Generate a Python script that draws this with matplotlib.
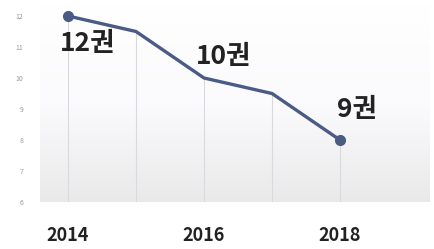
import numpy as np
import matplotlib
matplotlib.use("Agg")
import matplotlib.pyplot as plt
from matplotlib.colors import LinearSegmentedColormap

years = [2014, 2015, 2016, 2017, 2018]
values = [12.0, 11.5, 10.0, 9.5, 8.0]
label_years = [2014, 2016, 2018]
label_values = [12.0, 10.0, 8.0]
label_texts = ["12권", "10권", "9권"]
xtick_years = [2014, 2016, 2018]
ytick_values = [6, 7, 8, 9, 10, 11, 12]

plt.rcParams['font.family'] = ['Noto Sans CJK KR', 'DejaVu Sans']

W, H = 435, 249
fig = plt.figure(figsize=(W / 100, H / 100), dpi=100)
fig.patch.set_facecolor('white')
ax = fig.add_axes([40 / W, 1 - 202 / H, 390 / W, 197 / H])

x0, x1 = 2014 - 28 / 68, 2018 + 90 / 68
y0, y1 = 6, 6 + 197 / 31
ax.set_xlim(x0, x1)
ax.set_ylim(y0, y1)

cmap = LinearSegmentedColormap.from_list('g', ['#ffffff', '#fbfafc', '#e9e9ea'])
grad = np.linspace(0, 1, 256).reshape(-1, 1)
ax.imshow(grad, extent=[x0, x1, y0, y1], aspect='auto', cmap=cmap,
          origin='upper', zorder=0, vmin=0, vmax=1)

ax.vlines(years, y0, values, colors='#dadade', linewidth=0.8, zorder=1)
ax.plot(years, values, color='#4a5b85', linewidth=2.4, zorder=3,
        solid_capstyle='round', solid_joinstyle='round')
ax.plot([years[0], years[-1]], [values[0], values[-1]], 'o', color='#4a5b85',
        markersize=7, zorder=4)

offsets = [(20, -27), (19, 22), (17, 31)]
for yr, v, t, (dx, dy) in zip(label_years, label_values, label_texts, offsets):
    ax.annotate(t, (yr, v), xytext=(dx * 0.72, dy * 0.72), textcoords='offset points',
                ha='center', va='center', fontsize=19, fontweight='bold',
                color='#222222', zorder=5)

ax.set_xticks(xtick_years)
ax.set_xticklabels([str(y) for y in xtick_years], fontsize=13, fontweight='bold',
                   color='#222222')
ax.set_yticks(ytick_values)
ax.set_yticklabels([str(v) for v in ytick_values], fontsize=5, color='#9a9a9a')
ax.tick_params(axis='x', length=0, pad=17)
ax.tick_params(axis='y', length=0, pad=12)
for s in ax.spines.values():
    s.set_visible(False)

fig.savefig('out.png', dpi=100)
